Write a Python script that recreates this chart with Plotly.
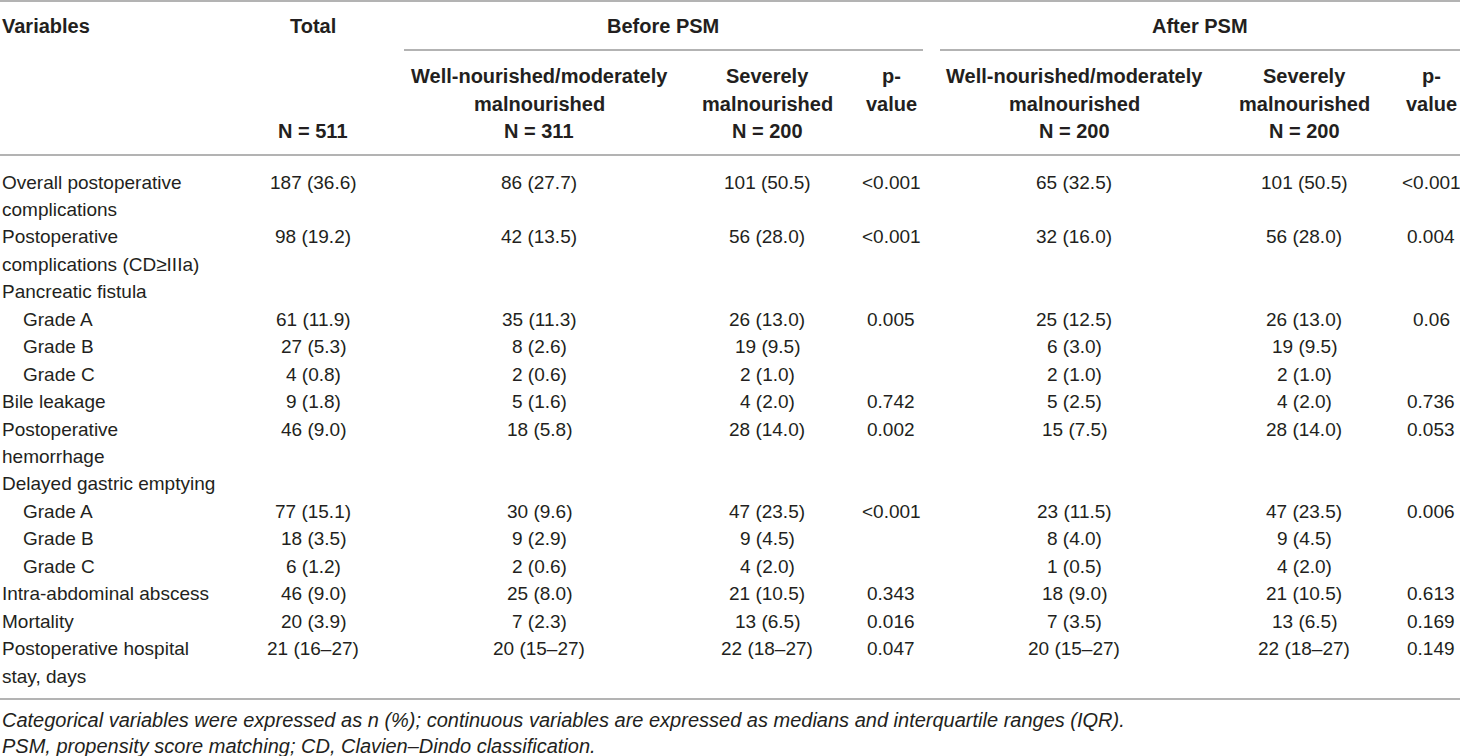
import plotly.graph_objects as go

# table content, one entry per variable (labels may wrap onto two lines)
variables = [
    "Overall postoperative<br>complications",
    "Postoperative<br>complications (CD≥IIIa)",
    "Pancreatic fistula",
    "   Grade A",
    "   Grade B",
    "   Grade C",
    "Bile leakage",
    "Postoperative<br>hemorrhage",
    "Delayed gastric emptying",
    "   Grade A",
    "   Grade B",
    "   Grade C",
    "Intra-abdominal abscess",
    "Mortality",
    "Postoperative hospital<br>stay, days",
]
total = ["187 (36.6)", "98 (19.2)", "", "61 (11.9)", "27 (5.3)", "4 (0.8)", "9 (1.8)",
         "46 (9.0)", "", "77 (15.1)", "18 (3.5)", "6 (1.2)", "46 (9.0)", "20 (3.9)", "21 (16–27)"]
before_well = ["86 (27.7)", "42 (13.5)", "", "35 (11.3)", "8 (2.6)", "2 (0.6)", "5 (1.6)",
               "18 (5.8)", "", "30 (9.6)", "9 (2.9)", "2 (0.6)", "25 (8.0)", "7 (2.3)", "20 (15–27)"]
before_severe = ["101 (50.5)", "56 (28.0)", "", "26 (13.0)", "19 (9.5)", "2 (1.0)", "4 (2.0)",
                 "28 (14.0)", "", "47 (23.5)", "9 (4.5)", "4 (2.0)", "21 (10.5)", "13 (6.5)", "22 (18–27)"]
before_p = ["<0.001", "<0.001", "", "0.005", "", "", "0.742",
            "0.002", "", "<0.001", "", "", "0.343", "0.016", "0.047"]
after_well = ["65 (32.5)", "32 (16.0)", "", "25 (12.5)", "6 (3.0)", "2 (1.0)", "5 (2.5)",
              "15 (7.5)", "", "23 (11.5)", "8 (4.0)", "1 (0.5)", "18 (9.0)", "7 (3.5)", "20 (15–27)"]
after_severe = ["101 (50.5)", "56 (28.0)", "", "26 (13.0)", "19 (9.5)", "2 (1.0)", "4 (2.0)",
                "28 (14.0)", "", "47 (23.5)", "9 (4.5)", "4 (2.0)", "21 (10.5)", "13 (6.5)", "22 (18–27)"]
after_p = ["<0.001", "0.004", "", "0.06", "", "", "0.736",
           "0.053", "", "0.006", "", "", "0.613", "0.169", "0.149"]

groups = ["Before PSM", "After PSM"]
sub_headers = ["Total", "Well-nourished/moderately<br>malnourished", "Severely<br>malnourished", "p-<br>value",
               "Well-nourished/moderately<br>malnourished", "Severely<br>malnourished", "p-<br>value"]
sub_n = ["N = 511", "N = 311", "N = 200", "", "N = 200", "N = 200", ""]
footnotes = [
    "Categorical variables were expressed as n (%); continuous variables are expressed as medians and interquartile ranges (IQR).",
    "PSM, propensity score matching; CD, Clavien–Dindo classification.",
]

W, H = 1460, 756
col_x = [313, 539, 767, 891, 1074, 1304, 1431]
group_x = [663, 1200]
group_lines = [(404, 923), (940, 1460)]
row0, pitch = 182, 27.45
ink = "#231f20"
rule = "#9a9a9a"
body_font = dict(family="Liberation Sans, Arial, sans-serif", size=19, color=ink)
head_font = dict(family="Liberation Sans, Arial, sans-serif", size=20, color=ink)
foot_font = dict(family="Liberation Sans, Arial, sans-serif", size=20, color=ink)

annotations = []


def add_text(x, y, text, font, anchor="center", bold=False, italic=False):
    if bold:
        text = "<b>" + text + "</b>"
    if italic:
        text = "<i>" + text + "</i>"
    annotations.append(dict(x=x, y=y, xref="x", yref="y", text=text, showarrow=False,
                            xanchor=anchor, yanchor="middle", font=font))


# header
add_text(0, 26, "Variables", head_font, anchor="left", bold=True)
for gx, g in zip(group_x, groups):
    add_text(gx, 26, g, head_font, bold=True)
for i, (cx, h) in enumerate(zip(col_x, sub_headers)):
    parts = h.split("<br>")
    if i == 0:
        add_text(cx, 26, parts[0], head_font, bold=True)
    else:
        for k, p in enumerate(parts):
            add_text(cx, 76 + k * 27.5, p, head_font, bold=True)
    if sub_n[i]:
        add_text(cx, 131, sub_n[i], head_font, bold=True)

# body
columns = [total, before_well, before_severe, before_p, after_well, after_severe, after_p]
line = 0
for r, label in enumerate(variables):
    y = row0 + line * pitch
    parts = label.split("<br>")
    for k, p in enumerate(parts):
        indent = 21 if p.startswith("   ") else 0
        add_text(indent, y + k * pitch, p.strip(), body_font, anchor="left")
    for cx, col in zip(col_x, columns):
        if col[r]:
            add_text(cx, y, col[r], body_font)
    line += len(parts)

# footnotes
for k, f in enumerate(footnotes):
    add_text(0, 720 + k * 25.5, f, foot_font, anchor="left", italic=True)

shapes = [
    dict(type="line", x0=0, x1=W, y0=1, y1=1, line=dict(color=rule, width=1.5)),
    dict(type="line", x0=0, x1=W, y0=155, y1=155, line=dict(color=rule, width=1.5)),
    dict(type="line", x0=0, x1=W, y0=699, y1=699, line=dict(color=rule, width=1.5)),
]
for x0, x1 in group_lines:
    shapes.append(dict(type="line", x0=x0, x1=x1, y0=50, y1=50, line=dict(color=rule, width=1.5)))
for s in shapes:
    s.update(xref="x", yref="y")

fig = go.Figure()
fig.update_layout(
    width=W, height=H,
    margin=dict(l=0, r=0, t=0, b=0),
    paper_bgcolor="white", plot_bgcolor="white",
    xaxis=dict(range=[0, W], visible=False, fixedrange=True),
    yaxis=dict(range=[H, 0], visible=False, fixedrange=True),
    annotations=annotations,
    shapes=shapes,
    showlegend=False,
)
# drop the default page margin so the table sits flush in the window
fig.write_html("out.html", config={"displayModeBar": False},
               post_script="document.body.style.margin='0';document.body.style.overflow='hidden';")
